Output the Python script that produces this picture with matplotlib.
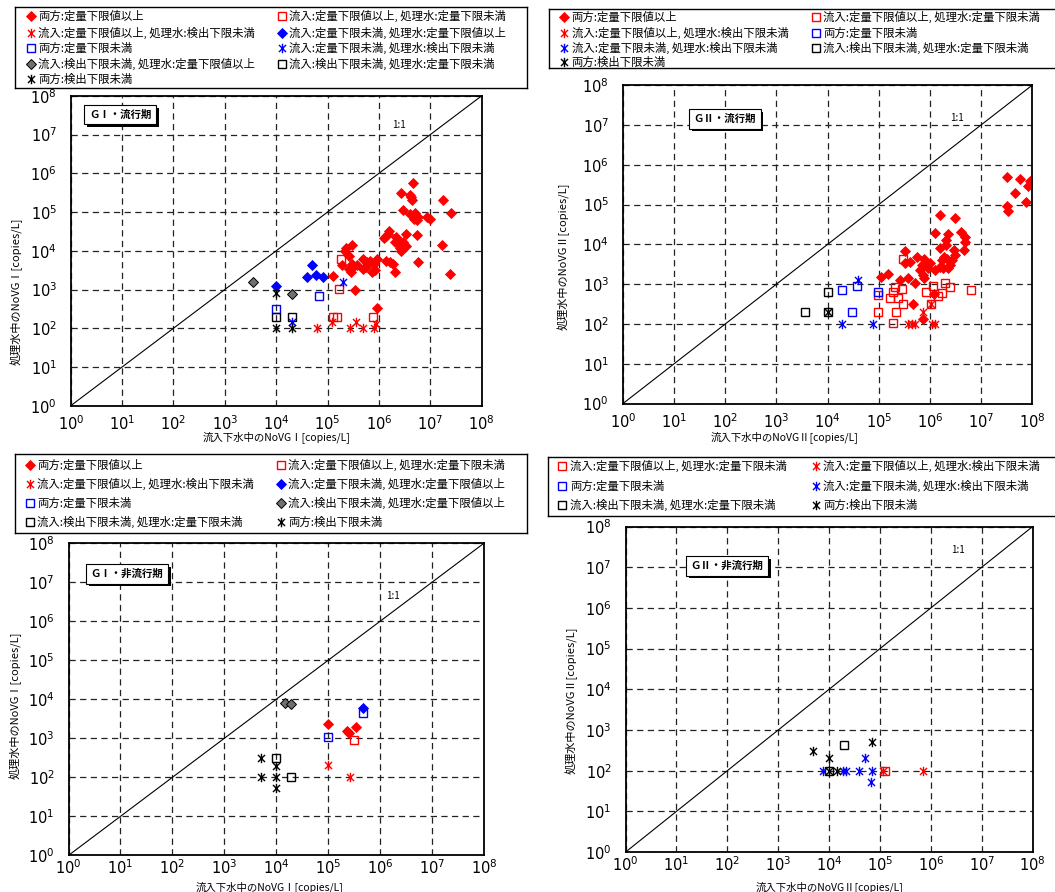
import matplotlib.pyplot as plt
import matplotlib.patheffects as pe
from matplotlib.path import Path

plt.rcParams['font.family'] = ['Noto Sans CJK JP', 'DejaVu Sans']

# ---- GI / 流行期 ----
g1e_qq_x = [4.7e6, 2.7e6, 4.0e6, 4.5e6, 4.2e6, 1.8e7, 2.5e7, 2.9e6, 4.0e6, 5.0e6,
            5.4e6, 5.8e6, 4.9e6, 8.5e6, 1.0e7, 1.6e6, 1.5e6, 1.4e6, 1.26e6, 2.2e6,
            2.4e6, 2.6e6, 3.0e6, 2.1e6, 3.3e6, 5.5e6, 2.7e6, 3.4e6, 2.6e6, 1.7e7,
            5.9e6, 2.45e7, 3.0e5, 2.3e5, 2.2e5, 2.6e5, 1.9e5, 1.3e5, 2.8e5, 3.2e5,
            3.7e5, 3.0e5, 2.6e5, 5.0e5, 5.9e5, 5.5e5, 4.8e5, 6.8e5, 7.9e5, 7.2e5,
            8.5e5, 9.1e5, 1.4e6, 1.66e6, 1.86e6, 2.1e6, 3.5e5, 9.1e5]
g1e_qq_y = [5.6e5, 3.1e5, 2.8e5, 2.0e5, 2.4e5, 2.0e5, 9.5e4, 1.1e5, 8.9e4, 9.3e4,
            6.2e4, 7.4e4, 6.6e4, 7.4e4, 6.8e4, 3.2e4, 2.7e4, 2.4e4, 2.2e4, 2.3e4,
            1.9e4, 1.5e4, 1.7e4, 1.7e4, 2.7e4, 2.5e4, 1.0e4, 1.35e4, 1.2e4, 1.4e4,
            5.0e3, 2.5e3, 1.45e4, 1.2e4, 9.8e3, 7.2e3, 4.4e3, 2.2e3, 2.8e3, 3.8e3,
            4.2e3, 4.6e3, 3.4e3, 6.2e3, 5.0e3, 3.8e3, 3.4e3, 5.6e3, 4.6e3, 2.8e3,
            3.1e3, 6.2e3, 5.5e3, 5.0e3, 4.6e3, 2.8e3, 1.0e3, 3.3e2]
g1e_q_nq_x = [1.8e5, 1.7e5, 1.26e5, 1.55e5, 7.6e5]
g1e_q_nq_y = [6.3e3, 1.05e3, 2.0e2, 2.0e2, 2.0e2]
g1e_q_nd_x = [6.3e4, 2.75e5, 5.0e5, 7.9e5, 3.6e5, 1.2e5, 8.9e5]
g1e_q_nd_y = [100, 100, 100, 100, 145, 145, 130]
g1e_nq_q_x = [4.9e4, 4.0e4, 6.0e4, 8.1e4, 1.0e4]
g1e_nq_q_y = [4.2e3, 2.1e3, 2.4e3, 2.1e3, 1.26e3]
g1e_nq_nq_x = [6.8e4, 1.0e4]
g1e_nq_nq_y = [6.9e2, 3.2e2]
g1e_nq_nd_x = [2.0e5, 2.0e4]
g1e_nq_nd_y = [1.55e3, 1.45e2]
g1e_nd_q_x = [3.6e3, 2.0e4]
g1e_nd_q_y = [1.55e3, 7.8e2]
g1e_nd_nq_x = [1.0e4, 2.0e4]
g1e_nd_nq_y = [2.0e2, 2.0e2]
g1e_nd_nd_x = [1.0e4, 1.0e4, 2.0e4]
g1e_nd_nd_y = [8.3e2, 100, 100]

# ---- GII / 流行期 ----
g2e_qq_x = [3.2e7, 5.8e7, 8.9e7, 8.3e7, 4.6e7, 7.6e7, 3.2e7, 3.3e7, 1.6e6, 3.1e6,
            1.26e6, 2.3e6, 2.1e6, 4.0e6, 4.8e6, 4.9e6, 4.7e6, 2.1e6, 1.6e6, 2.9e6,
            3.1e6, 1.9e6, 1.7e6, 2.2e6, 2.7e6, 2.5e6, 2.3e6, 3.2e5, 5.6e5, 7.6e5,
            3.2e5, 4.1e5, 1.0e6, 9.3e5, 1.26e6, 1.6e6, 1.8e6, 6.9e5, 6.5e5, 7.2e5,
            7.6e5, 1.5e5, 1.1e5, 2.6e5, 3.8e5, 5.1e5, 1.2e6, 4.7e5, 7.2e5]
g2e_qq_y = [5.0e5, 4.3e5, 4.0e5, 2.9e5, 2.0e5, 1.17e5, 9.3e4, 6.9e4, 5.6e4, 4.7e4,
            1.9e4, 1.8e4, 1.3e4, 2.0e4, 1.5e4, 1.17e4, 7.4e3, 9.5e3, 7.9e3, 7.2e3,
            5.4e3, 4.8e3, 4.0e3, 4.4e3, 4.0e3, 3.0e3, 2.6e3, 6.9e3, 4.7e3, 4.4e3,
            3.4e3, 3.7e3, 3.4e3, 2.6e3, 2.3e3, 2.7e3, 2.5e3, 3.0e3, 2.3e3, 1.7e3,
            1.45e3, 1.8e3, 1.55e3, 1.26e3, 1.4e3, 1.1e3, 5.6e2, 3.2e2, 1.3e2]
g2e_q_nq_x = [3.0e5, 2.1e5, 2.8e5, 1.9e5, 1.66e5, 2.4e5, 3.0e5, 2.2e5, 9.8e4, 9.8e4,
              1.9e5, 1.17e6, 1.95e6, 2.5e6, 8.5e5, 1.7e6, 1.45e6, 1.07e6, 6.2e6]
g2e_q_nq_y = [4.2e3, 8.7e2, 7.4e2, 6.5e2, 4.4e2, 4.4e2, 3.2e2, 2.0e2, 5.4e2, 2.0e2,
              1.05e2, 8.9e2, 1.05e3, 8.3e2, 6.2e2, 5.9e2, 5.1e2, 3.2e2, 7.1e2]
g2e_q_nd_x = [3.7e5, 4.5e5, 5.2e5, 1.12e6, 1.23e6, 7.2e5, 1.07e6]
g2e_q_nd_y = [100, 100, 100, 100, 100, 2.0e2, 3.2e2]
g2e_nq_nq_x = [1.95e4, 3.8e4, 3.0e4, 9.8e4]
g2e_nq_nq_y = [7.1e2, 8.9e2, 2.0e2, 6.2e2]
g2e_nq_nd_x = [4.0e4, 1.95e4, 7.8e4]
g2e_nq_nd_y = [1.26e3, 100, 100]
g2e_nd_nq_x = [1.0e4, 3.6e3, 1.0e4]
g2e_nd_nq_y = [6.3e2, 2.0e2, 2.0e2]
g2e_nd_nd_x = [1.0e4]
g2e_nd_nd_y = [2.0e2]

# ---- GI / 非流行期 ----
g1n_qq_x = [9.8e4, 2.5e5, 2.3e5, 3.4e5]
g1n_qq_y = [2.3e3, 1.35e3, 1.5e3, 2.0e3]
g1n_q_nq_x = [3.2e5]
g1n_q_nq_y = [9.3e2]
g1n_q_nd_x = [9.8e4, 2.6e5]
g1n_q_nd_y = [2.1e2, 100]
g1n_nq_q_x = [4.7e5]
g1n_nq_q_y = [5.9e3]
g1n_nq_nq_x = [9.8e4, 4.7e5]
g1n_nq_nq_y = [1.07e3, 4.4e3]
g1n_nd_q_x = [1.5e4, 1.9e4]
g1n_nd_q_y = [7.9e3, 7.6e3]
g1n_nd_nq_x = [9.8e3, 1.9e4]
g1n_nd_nq_y = [3.2e2, 100]
g1n_nd_nd_x = [5.0e3, 5.0e3, 1.0e4, 1.0e4, 1.0e4]
g1n_nd_nd_y = [3.1e2, 100, 100, 1.95e2, 52]

# ---- GII / 非流行期 ----
g2n_q_nq_x = [1.23e5]
g2n_q_nq_y = [100]
g2n_q_nd_x = [1.15e5, 6.9e5]
g2n_q_nd_y = [100, 100]
g2n_nq_nq_x = []
g2n_nq_nq_y = []
g2n_nq_nd_x = [7.6e3, 1.86e4, 2.1e4, 3.9e4, 7.1e4, 5.0e4, 6.8e4]
g2n_nq_nd_y = [100, 100, 100, 100, 100, 2.0e2, 54]
g2n_nd_nq_x = [1.95e4, 9.8e3]
g2n_nd_nq_y = [4.3e2, 100]
g2n_nd_nd_x = [4.9e3, 9.8e3, 7.1e4, 9.8e3, 1.45e4]
g2n_nd_nd_y = [3.0e2, 2.0e2, 5.1e2, 100, 100]

labels = {
    'qq': '両方:定量下限値以上',
    'q_nq': '流入:定量下限値以上, 処理水:定量下限未満',
    'q_nd': '流入:定量下限値以上, 処理水:検出下限未満',
    'nq_q': '流入:定量下限未満, 処理水:定量下限値以上',
    'nq_nq': '両方:定量下限未満',
    'nq_nd': '流入:定量下限未満, 処理水:検出下限未満',
    'nd_q': '流入:検出下限未満, 処理水:定量下限値以上',
    'nd_nq': '流入:検出下限未満, 処理水:定量下限未満',
    'nd_nd': '両方:検出下限未満',
}

# asterisk = vertical bar + X
star = Path([(0, -1), (0, 1), (-0.75, -0.75), (0.75, 0.75), (-0.75, 0.75), (0.75, -0.75)],
            [Path.MOVETO, Path.LINETO] * 3)
red, blue = '#ff0000', '#0000ff'
styles = {
    'qq': dict(marker='D', ms=4.8, mfc=red, mec=red, mew=0.6),
    'q_nq': dict(marker='s', ms=5.5, mfc='none', mec=red, mew=1.0),
    'q_nd': dict(marker=star, ms=6.8, mfc='none', mec=red, mew=1.0),
    'nq_q': dict(marker='D', ms=4.8, mfc=blue, mec=blue, mew=0.6),
    'nq_nq': dict(marker='s', ms=5.5, mfc='none', mec=blue, mew=1.0),
    'nq_nd': dict(marker=star, ms=6.8, mfc='none', mec=blue, mew=1.0),
    'nd_q': dict(marker='D', ms=4.8, mfc='#707070', mec='black', mew=0.7),
    'nd_nq': dict(marker='s', ms=5.5, mfc='none', mec='black', mew=1.0),
    'nd_nd': dict(marker=star, ms=6.8, mfc='none', mec='black', mew=1.0),
}
draw_order = ['qq', 'nq_q', 'nd_q', 'q_nq', 'nq_nq', 'nd_nq', 'q_nd', 'nq_nd', 'nd_nd']

W, H = 1055, 892
fig = plt.figure(figsize=(W / 100, H / 100), dpi=100)


def panel(rect, series, title, title_xy, ratio_xy, xlab, xlab_xy, ylab, ylab_xy, xpad=6):
    ax = fig.add_axes(rect)
    ax.set_xscale('log')
    ax.set_yscale('log')
    ax.set_xlim(1, 1e8)
    ax.set_ylim(1, 1e8)
    ticks = [10.0 ** k for k in range(9)]
    ax.set_xticks(ticks)
    ax.set_yticks(ticks)
    ax.set_xticks([], minor=True)
    ax.set_yticks([], minor=True)
    ax.set_xticklabels([rf'$10^{{{k}}}$' for k in range(9)])
    ax.set_yticklabels([rf'$10^{{{k}}}$' for k in range(9)])
    ax.tick_params(length=0, labelsize=10.5)
    ax.tick_params(axis='x', pad=xpad)
    ax.tick_params(axis='y', pad=10)
    ax.grid(True, color='#222222', ls=(0, (5, 3.5)), lw=0.9)
    for s in ax.spines.values():
        s.set_linewidth(1.3)
    ax.plot([1, 1e8], [1, 1e8], color='black', lw=0.8)
    for key in draw_order:
        if key in series:
            xs, ys = series[key]
            ax.plot(xs, ys, ls='none', **styles[key])
    t = ax.text(*title_xy, title, transform=ax.transAxes, fontsize=7.5,
                fontweight='bold', ha='center', va='center',
                bbox=dict(boxstyle='square,pad=0.45', fc='white', ec='black', lw=0.8))
    t.get_bbox_patch().set_path_effects(
        [pe.withSimplePatchShadow(offset=(2, -2), shadow_rgbFace='black', alpha=1.0)])
    ax.text(*ratio_xy, '1:1', transform=ax.transAxes, fontsize=7, ha='center', va='center')
    ax.set_xlabel(xlab, fontsize=7.5)
    ax.set_ylabel(ylab, fontsize=8)
    ax.xaxis.set_label_coords(*xlab_xy)
    ax.yaxis.set_label_coords(*ylab_xy)
    return ax


def legend_box(box, rows, cols):
    l, t, r, b = box
    lax = fig.add_axes([l / W, 1 - b / H, (r - l) / W, (b - t) / H])
    lax.set_xlim(0, r - l)
    lax.set_ylim(b - t, 0)
    lax.set_xticks([])
    lax.set_yticks([])
    for s in lax.spines.values():
        s.set_linewidth(1.0)
    for y, keys in rows:
        for (mx, tx), key in zip(cols, keys):
            lax.plot([mx], [y], ls='none', **styles[key])
            lax.text(tx, y, labels[key], fontsize=8.2, ha='left', va='center')


# top-left: GI epidemic season
panel([0.0671, 0.5452, 0.3894, 0.3473],
      {'qq': (g1e_qq_x, g1e_qq_y), 'q_nq': (g1e_q_nq_x, g1e_q_nq_y),
       'q_nd': (g1e_q_nd_x, g1e_q_nd_y), 'nq_q': (g1e_nq_q_x, g1e_nq_q_y),
       'nq_nq': (g1e_nq_nq_x, g1e_nq_nq_y), 'nq_nd': (g1e_nq_nd_x, g1e_nq_nd_y),
       'nd_q': (g1e_nd_q_x, g1e_nd_q_y), 'nd_nq': (g1e_nd_nq_x, g1e_nd_nq_y),
       'nd_nd': (g1e_nd_nd_x, g1e_nd_nd_y)},
      'ＧⅠ・流行期', (0.12, 0.94), (0.80, 0.905),
      '流入下水中のNoVGⅠ[copies/L]', (0.5, -0.082),
      '処理水中のNoVGⅠ[copies/L]', (-0.118, 0.37))
legend_box((15, 7, 527, 88),
           [(9, ['qq', 'q_nq']), (26, ['q_nd', 'nq_q']), (41, ['nq_nq', 'nq_nd']),
            (56.5, ['nd_q', 'nd_nq']), (72, ['nd_nd'])],
           [(16, 23), (267, 274)])

# top-right: GII epidemic season
panel([0.5904, 0.5475, 0.3881, 0.3571],
      {'qq': (g2e_qq_x, g2e_qq_y), 'q_nq': (g2e_q_nq_x, g2e_q_nq_y),
       'q_nd': (g2e_q_nd_x, g2e_q_nd_y), 'nq_nq': (g2e_nq_nq_x, g2e_nq_nq_y),
       'nq_nd': (g2e_nq_nd_x, g2e_nq_nd_y), 'nd_nq': (g2e_nd_nq_x, g2e_nd_nq_y),
       'nd_nd': (g2e_nd_nd_x, g2e_nd_nd_y)},
      'ＧⅡ・流行期', (0.249, 0.894), (0.816, 0.896),
      '流入下水中のNoVGⅡ[copies/L]', (0.396, -0.086),
      '処理水中のNoVGⅡ[copies/L]', (-0.129, 0.463))
legend_box((549, 9, 1062, 68),
           [(7.7, ['qq', 'q_nq']), (23.7, ['q_nd', 'nq_nq']), (38.7, ['nq_nd', 'nd_nq']),
            (53.3, ['nd_nd'])],
           [(15, 22.7), (267, 274)])

# bottom-left: GI non-epidemic season
panel([0.0650, 0.0411, 0.3936, 0.3498],
      {'qq': (g1n_qq_x, g1n_qq_y), 'q_nq': (g1n_q_nq_x, g1n_q_nq_y),
       'q_nd': (g1n_q_nd_x, g1n_q_nd_y), 'nq_q': (g1n_nq_q_x, g1n_nq_q_y),
       'nq_nq': (g1n_nq_nq_x, g1n_nq_nq_y), 'nd_q': (g1n_nd_q_x, g1n_nd_q_y),
       'nd_nq': (g1n_nd_nq_x, g1n_nd_nq_y), 'nd_nd': (g1n_nd_nd_x, g1n_nd_nd_y)},
      'ＧⅠ・非流行期', (0.141, 0.902), (0.782, 0.831),
      '流入下水中のNoVGⅠ[copies/L]', (0.485, -0.083),
      '処理水中のNoVGⅠ[copies/L]', (-0.112, 0.48), xpad=2)
legend_box((15, 454, 527, 533),
           [(11, ['qq', 'q_nq']), (30.3, ['q_nd', 'nq_q']), (49.3, ['nq_nq', 'nd_q']),
            (68.3, ['nd_nq', 'nd_nd'])],
           [(14.5, 22), (266, 273)])

# bottom-right: GII non-epidemic season
panel([0.5930, 0.0448, 0.3858, 0.3649],
      {'q_nq': (g2n_q_nq_x, g2n_q_nq_y), 'q_nd': (g2n_q_nd_x, g2n_q_nd_y),
       'nq_nq': (g2n_nq_nq_x, g2n_nq_nq_y), 'nq_nd': (g2n_nq_nd_x, g2n_nq_nd_y),
       'nd_nq': (g2n_nd_nq_x, g2n_nd_nq_y), 'nd_nd': (g2n_nd_nd_x, g2n_nd_nd_y)},
      'ＧⅡ・非流行期', (0.249, 0.879), (0.817, 0.928),
      '流入下水中のNoVGⅡ[copies/L]', (0.502, -0.090),
      '処理水中のNoVGⅡ[copies/L]', (-0.118, 0.467), xpad=2)
legend_box((548, 457, 1060, 516),
           [(8.7, ['q_nq', 'q_nd']), (28.7, ['nq_nq', 'nq_nd']), (48, ['nd_nq', 'nd_nd'])],
           [(13.7, 22), (268, 275)])

fig.savefig('out.png', dpi=100)
